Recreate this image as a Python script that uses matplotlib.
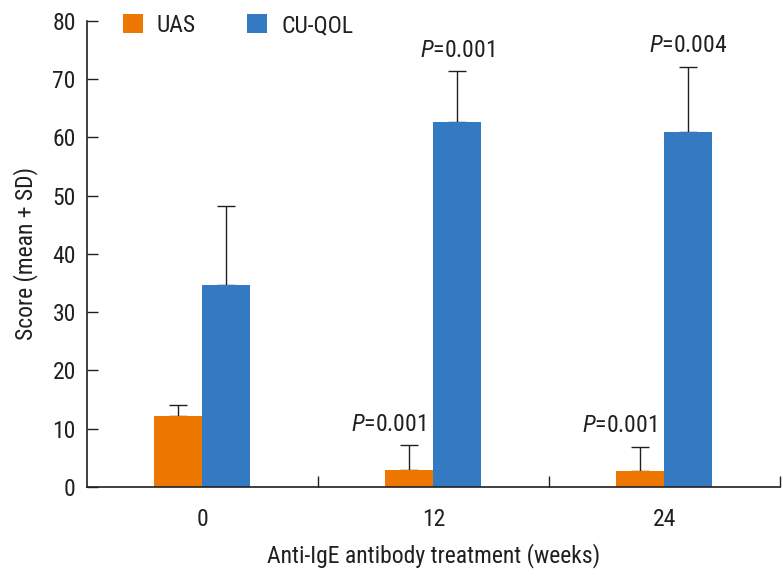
import matplotlib
matplotlib.use("Agg")
import matplotlib.pyplot as plt
import numpy as np

fam = 'Roboto Condensed'
plt.rcParams['font.family'] = [fam, 'DejaVu Sans']
plt.rcParams['mathtext.fontset'] = 'custom'
plt.rcParams['mathtext.it'] = fam + ':italic'
plt.rcParams['mathtext.rm'] = fam

weeks = ['0', '12', '24']
uas_mean = [12.2, 2.9, 2.7]
uas_sd = [1.9, 4.3, 4.2]
qol_mean = [34.7, 62.7, 60.9]
qol_sd = [13.5, 8.7, 11.2]
uas_p = ['', '0.001', '0.001']
qol_p = ['', '0.001', '0.004']

orange = '#EE7702'
blue = '#347AC2'
ink = '#231F20'

fig = plt.figure(figsize=(7.83, 5.77), dpi=100)
ax = fig.add_axes([0.111, 0.156, 0.885, 0.808])
x = np.arange(len(weeks))
w = 0.208
ax.bar(x - w/2, uas_mean, w, color=orange, label='UAS', zorder=2)
ax.bar(x + w/2, qol_mean, w, color=blue, label='CU-QOL', zorder=2)
ax.errorbar(x - w/2, uas_mean, yerr=[np.zeros(3), uas_sd], fmt='none', ecolor=ink, elinewidth=1, capsize=6.2, capthick=1, zorder=1)
ax.errorbar(x + w/2, qol_mean, yerr=[np.zeros(3), qol_sd], fmt='none', ecolor=ink, elinewidth=1, capsize=6.2, capthick=1, zorder=1)

fs = 17
for i in range(len(weeks)):
    if uas_p[i]:
        ax.text(x[i] - w/2 - 0.09, uas_mean[i] + uas_sd[i] + 1.6, r'$P$=' + uas_p[i], ha='center', va='bottom', fontsize=fs, color=ink)
    if qol_p[i]:
        ax.text(x[i] + w/2, qol_mean[i] + qol_sd[i] + 1.6, r'$P$=' + qol_p[i], ha='center', va='bottom', fontsize=fs, color=ink)

ax.set_xlim(-0.5, 2.5)
ax.set_ylim(0, 80)
ax.set_yticks(np.arange(0, 81, 10))
ax.set_xticks(x)
ax.set_xticklabels(weeks)
ax.tick_params(axis='x', length=0, labelsize=fs, pad=15, labelcolor=ink)
ax.set_xticks([0.5, 1.5, 2.5], minor=True)
ax.tick_params(axis='x', which='minor', direction='in', length=8, width=1, color=ink)
ax.tick_params(axis='y', direction='in', length=8, width=1, labelsize=fs, pad=8, color=ink, labelcolor=ink)
for s in ['top', 'right']:
    ax.spines[s].set_visible(False)
for s in ['left', 'bottom']:
    ax.spines[s].set_linewidth(1.2)
    ax.spines[s].set_color(ink)
ax.set_xlabel('Anti-IgE antibody treatment (weeks)', fontsize=fs, labelpad=9, color=ink)
ax.set_ylabel('Score (mean + SD)', fontsize=fs, labelpad=10, color=ink)
leg = ax.legend(loc='upper left', bbox_to_anchor=(0.021, 1.06), ncol=2, frameon=False, fontsize=fs,
          handlelength=0.85, handleheight=0.85, columnspacing=2.15, handletextpad=0.6)
for t in leg.get_texts():
    t.set_color(ink)
fig.savefig('out.png', dpi=100)
